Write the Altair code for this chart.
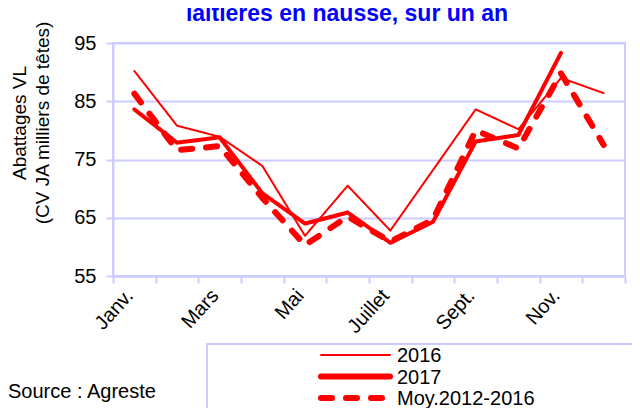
import altair as alt
import pandas as pd

months = ["Janv.", "Févr.", "Mars", "Avril", "Mai", "Juin",
          "Juillet", "Août", "Sept.", "Oct.", "Nov.", "Déc."]
shown_months = ["Janv.", "Mars", "Mai", "Juillet", "Sept.", "Nov."]
series_names = ["2016", "2017", "Moy.2012-2016"]
v2016 = [90.2, 80.8, 78.9, 73.9, 61.9, 70.5, 62.8, 73.2, 83.6, 80.2, 89.0, 86.4]
v2017 = [83.6, 77.9, 78.8, 69.2, 64.0, 65.9, 60.7, 64.3, 78.1, 79.2, 93.3, None]
vmoy = [86.3, 76.6, 77.3, 68.4, 60.3, 65.2, 60.9, 64.7, 80.0, 76.9, 89.8, 77.5]
y_ticks = [55, 65, 75, 85, 95]
title_text = "laitières en hausse, sur un an"
y_title = ["Abattages VL", "(CV JA milliers de têtes)"]
source_text = "Source : Agreste"

stroke_widths = [2, 6, 6]
stroke_dashes = [[1, 0], [1, 0], [11, 14]]

rows = []
for name, vals in zip(series_names, [v2016, v2017, vmoy]):
    for m, v in zip(months, vals):
        rows.append({"mois": m, "serie": name, "valeur": v})
df = pd.DataFrame(rows)

LAV = "#ccccff"
FONT = "Liberation Sans"
FS = 20

label_expr = "indexof(" + str(shown_months) + ", datum.value) >= 0 ? datum.value : ''"

lines = alt.Chart(df).mark_line(color="red", strokeCap="round", strokeJoin="round").encode(
    x=alt.X("mois:N", sort=months,
            scale=alt.Scale(type="band", paddingInner=0, paddingOuter=0),
            axis=alt.Axis(title=None, labelAngle=-48, labelExpr=label_expr,
                          labelAlign="right", labelBaseline="middle",
                          tickBand="extent", domainColor=LAV, domainWidth=2,
                          tickColor=LAV, tickWidth=2, tickSize=7,
                          labelFontSize=FS, labelFont=FONT, labelColor="black",
                          labelPadding=9, labelOffset=-5, grid=False)),
    y=alt.Y("valeur:Q", scale=alt.Scale(domain=[55, 95], nice=False, zero=False),
            axis=alt.Axis(values=y_ticks, title=None,
                          domainColor=LAV, domainWidth=2, tickColor=LAV,
                          tickWidth=2, tickSize=7, gridColor=LAV, gridWidth=2,
                          labelFontSize=FS, labelFont=FONT, labelColor="black",
                          labelPadding=10)),
    strokeWidth=alt.StrokeWidth("serie:N", sort=series_names,
                                scale=alt.Scale(domain=series_names, range=stroke_widths),
                                legend=None),
    strokeDash=alt.StrokeDash("serie:N", sort=series_names,
                              scale=alt.Scale(domain=series_names, range=stroke_dashes),
                              legend=None),
    order=alt.Order("serie:N"),
)

one = alt.Data(values=[{"a": 1}])

layers = []

# legend box
layers.append(alt.Chart(one).mark_rect(fill=None, stroke=LAV, strokeWidth=2).encode(
    x=alt.value(94), x2=alt.value(600), y=alt.value(301), y2=alt.value(420)
))

layers.append(lines)

# legend entries
for i, (name, sw, sd) in enumerate(zip(series_names, stroke_widths, stroke_dashes)):
    yy = 312 + i * 21.5
    layers.append(alt.Chart(one).mark_rule(
        color="red", strokeWidth=sw, strokeDash=sd, strokeCap="round"
    ).encode(x=alt.value(208), x2=alt.value(277), y=alt.value(yy)))
    layers.append(alt.Chart(one).mark_text(
        text=name, font=FONT, fontSize=FS, color="black",
        align="left", baseline="middle"
    ).encode(x=alt.value(284), y=alt.value(yy + 1)))

# y-axis title (two lines, rotated)
for i, t in enumerate(y_title):
    layers.append(alt.Chart(one).mark_text(
        text=t, font=FONT, fontSize=19, color="black", angle=270,
        align="center", baseline="middle"
    ).encode(x=alt.value(-93 + i * 23), y=alt.value(80)))

# title (top part cut off, as in the reference)
layers.append(alt.Chart(one).mark_text(
    text=title_text, font=FONT, fontSize=23, fontWeight="bold",
    color="#0000ff", baseline="alphabetic", align="center"
).encode(x=alt.value(234), y=alt.value(-22)))

# source
layers.append(alt.Chart(one).mark_text(
    text=source_text, font=FONT, fontSize=FS, color="black",
    baseline="middle", align="left"
).encode(x=alt.value(-105), y=alt.value(349)))

chart = alt.layer(*layers).properties(
    width=512, height=233,
    autosize=alt.AutoSizeParams(type="none"),
    padding={"left": 105, "top": 35, "right": 7, "bottom": 132},
).configure_view(stroke=LAV, strokeWidth=2)

chart.save("out.html", embed_options={"renderer": "svg", "actions": False})
